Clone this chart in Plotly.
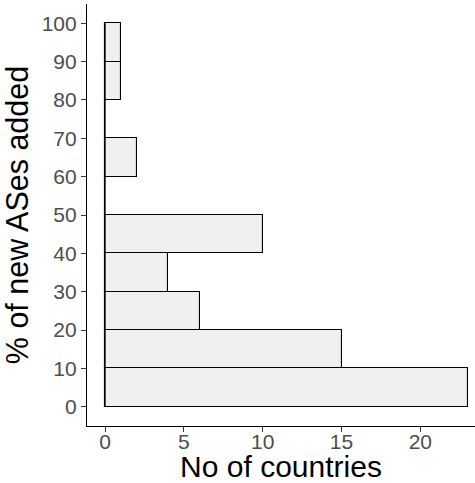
import plotly.graph_objects as go

# Histogram data: bins of % new ASes added, counts of countries
bin_edges = [0, 10, 20, 30, 40, 50, 60, 70, 80, 90, 100]
counts = [23, 15, 6, 4, 10, 0, 2, 0, 1, 1]
x_ticks = [0, 5, 10, 15, 20]
y_ticks = [0, 10, 20, 30, 40, 50, 60, 70, 80, 90, 100]

centers = [(a + b) / 2 for a, b in zip(bin_edges[:-1], bin_edges[1:])]
widths = [b - a for a, b in zip(bin_edges[:-1], bin_edges[1:])]

fig = go.Figure()
fig.add_trace(go.Bar(
    x=counts, y=centers, width=widths, orientation="h",
    marker=dict(color="#F0F0F0", line=dict(color="black", width=1.1)),
    showlegend=False, hoverinfo="skip",
))
# zero-width bins still show their outline along x=0
fig.add_trace(go.Scatter(
    x=[0] * len(bin_edges), y=bin_edges, mode="lines",
    line=dict(color="black", width=1.1), showlegend=False, hoverinfo="skip",
))

font = "Liberation Sans, Arial, sans-serif"
fig.update_layout(
    width=475, height=483,
    margin=dict(l=87, r=0, t=4, b=57, autoexpand=False),
    plot_bgcolor="white", paper_bgcolor="white",
    font=dict(family=font),
    xaxis=dict(
        range=[-1.15, 23.47], tickvals=x_ticks, automargin=True,
        showgrid=False, zeroline=False,
        showline=True, linecolor="black", linewidth=1.2,
        ticks="outside", ticklen=5, tickcolor="#333333", tickwidth=1.1,
        ticklabelstandoff=-8,
        tickfont=dict(size=21, color="#4D4D4D", family=font),
        title=dict(text="No of countries", font=dict(size=30, color="black", family=font), standoff=4),
    ),
    yaxis=dict(
        range=[-5, 105], tickvals=y_ticks, automargin=True,
        showgrid=False, zeroline=False,
        showline=True, linecolor="black", linewidth=1.2,
        ticks="outside", ticklen=5, tickcolor="#333333", tickwidth=1.1,
        tickfont=dict(size=21, color="#4D4D4D", family=font),
        title=dict(text="% of new ASes added", font=dict(size=30.5, color="black", family=font), standoff=6),
    ),
    bargap=0,
)

fig.write_html("out.html", post_script="document.body.style.margin='0';",
               config={"displayModeBar": False})
